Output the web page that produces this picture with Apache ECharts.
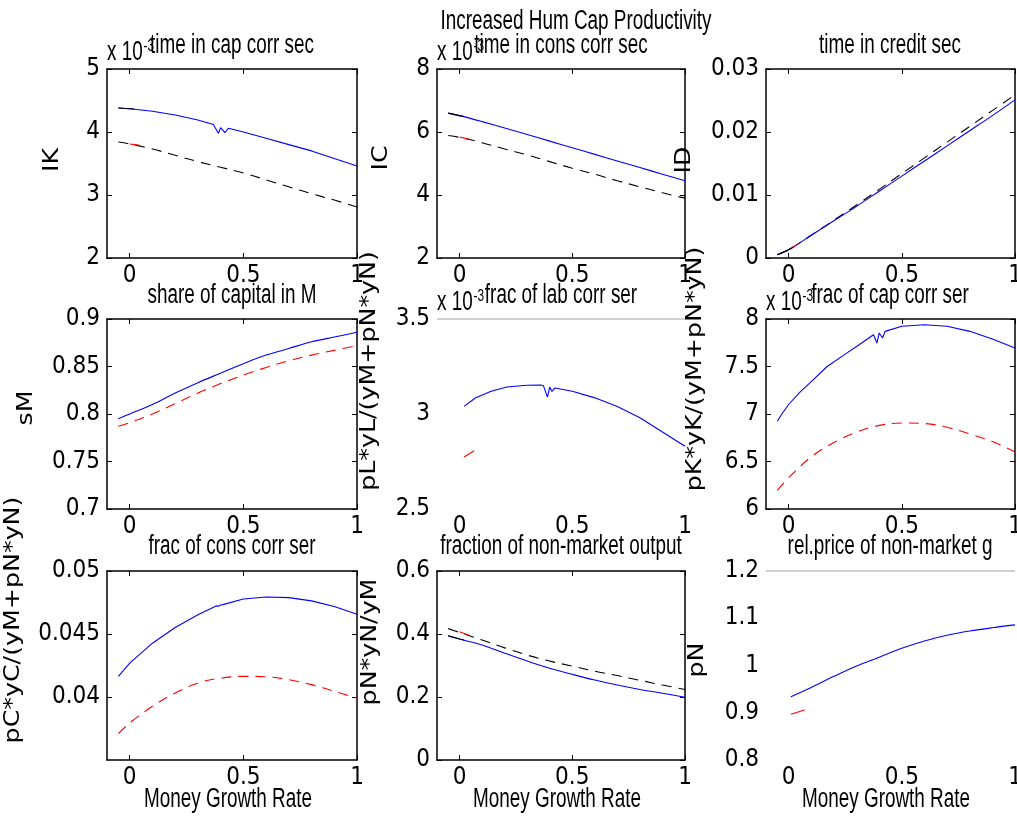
<!DOCTYPE html>
<html><head><meta charset="utf-8">
<script src="https://cdn.jsdelivr.net/npm/echarts@6/dist/echarts.min.js"></script>
<style>html,body{margin:0;padding:0;background:#fff}#c{width:1017px;height:819px}</style>
</head><body><div id="c"></div>
<script>
// ---------------- DATA ----------------
const xGrid = [-0.05, 0, 0.1, 0.2, 0.3, 0.4, 0.5, 0.6, 0.7, 0.8, 0.9, 1.0];
const xStart = [-0.05, 0, 0.02];
const xRedShort = [0, 0.03, 0.065];
const xTicks = [0, 0.5, 1];

const mainTitle = 'Increased Hum Cap Productivity';
const panelTitles = ['time in cap corr sec', 'time in cons corr sec', 'time in credit sec',
  'share of capital in M', 'frac of lab corr ser', 'frac of cap corr ser',
  'frac of cons corr ser', 'fraction of non-market output', 'rel.price of non-market g'];
const yNames = ['IK', 'IC', 'ID', 'sM', 'pL*yL/(yM+pN*yN)', 'pK*yK/(yM+pN*yN)',
  'pC*yC/(yM+pN*yN)', 'pN*yN/yM', 'pN'];
const xName = 'Money Growth Rate';

// Panel 1: IK (x 10^-3)
const ikBlueX = [-0.05, 0, 0.1, 0.2, 0.3, 0.368, 0.39, 0.40, 0.419, 0.434, 0.5, 0.6, 0.7, 0.8, 0.9, 1.0];
const ikBlue = [4.38, 4.37, 4.33, 4.27, 4.19, 4.12, 3.98, 4.07, 3.99, 4.06, 4.00, 3.90, 3.80, 3.70, 3.58, 3.46];
const ikBlackDash = [3.84, 3.81, 3.73, 3.63, 3.53, 3.44, 3.35, 3.24, 3.13, 3.02, 2.92, 2.81];
const ikBlackStart = [4.38, 4.37, 4.365];
const ikRed = [3.81, 3.795, 3.775];
const ikTicks = [2, 3, 4, 5];

// Panel 2: IC (x 10^-3)
const icBlue = [6.60, 6.52, 6.33, 6.13, 5.92, 5.71, 5.50, 5.29, 5.08, 4.87, 4.66, 4.45];
const icBlackDash = [5.89, 5.83, 5.66, 5.46, 5.27, 5.06, 4.85, 4.66, 4.45, 4.26, 4.07, 3.90];
const icBlackStart = [6.60, 6.52, 6.49];
const icRed = [5.84, 5.79, 5.73];
const icTicks = [2, 4, 6, 8];

// Panel 3: ID
const idBlue = [0.0005, 0.0013, 0.0036, 0.0059, 0.0082, 0.0106, 0.0130, 0.0154, 0.0178, 0.0202, 0.0226, 0.0251];
const idBlackDash = [0.0005, 0.0013, 0.0036, 0.0060, 0.0084, 0.0109, 0.0134, 0.0159, 0.0184, 0.0209, 0.0234, 0.0259];
const idBlackStart = [0.0005, 0.0013, 0.0017];
const idRed = [0.0013, 0.0020, 0.0027];
const idTicks = [0, 0.01, 0.02, 0.03];

// Panel 4: sM
const smBlue = [0.795, 0.800, 0.810, 0.822, 0.833, 0.843, 0.853, 0.862, 0.869, 0.876, 0.881, 0.886];
const smRed = [0.787, 0.791, 0.800, 0.811, 0.822, 0.832, 0.841, 0.849, 0.856, 0.862, 0.867, 0.872];
const smTicks = [0.7, 0.75, 0.8, 0.85, 0.9];

// Panel 5: pL*yL share (x 10^-3)
const plBlueX = [0.02, 0.07, 0.14, 0.21, 0.3, 0.36, 0.372, 0.39, 0.40, 0.41, 0.423, 0.5, 0.6, 0.7, 0.8, 0.9, 1.0];
const plBlue = [3.04, 3.084, 3.12, 3.142, 3.151, 3.153, 3.149, 3.089, 3.142, 3.119, 3.137, 3.12, 3.085, 3.04, 2.98, 2.905, 2.83];
const plRedX = [0.02, 0.065];
const plRed = [2.774, 2.807];
const plTicks = [2.5, 3, 3.5];

// Panel 6: pK*yK share (x 10^-3)
const pkBlueX = [-0.05, -0.03, 0, 0.05, 0.1, 0.17, 0.25, 0.3, 0.375, 0.39, 0.40, 0.415, 0.426, 0.5, 0.6, 0.7, 0.8, 0.9, 1.0];
const pkBlue = [6.923, 7.0, 7.1, 7.23, 7.34, 7.5, 7.63, 7.71, 7.835, 7.747, 7.853, 7.80, 7.87, 7.923, 7.94, 7.923, 7.87, 7.79, 7.695];
const pkRed = [6.196, 6.33, 6.55, 6.70, 6.81, 6.88, 6.905, 6.90, 6.86, 6.79, 6.71, 6.60];
const pkTicks = [6, 6.5, 7, 7.5, 8];

// Panel 7: pC*yC share
const pcBlueX = [-0.05, 0, 0.1, 0.2, 0.3, 0.38, 0.39, 0.40, 0.41, 0.5, 0.6, 0.7, 0.8, 0.9, 1.0];
const pcBlue = [0.04164, 0.04269, 0.04427, 0.04551, 0.04652, 0.04723, 0.04720, 0.04730, 0.04733, 0.04778, 0.04794, 0.04789, 0.04763, 0.04718, 0.04657];
const pcRed = [0.0371, 0.03794, 0.03926, 0.04032, 0.04111, 0.04150, 0.04164, 0.04161, 0.04137, 0.04098, 0.04045, 0.0399];
const pcTicks = [0.04, 0.045, 0.05];

// Panel 8: pN*yN/yM
const pnyBlue = [0.394, 0.384, 0.365, 0.339, 0.314, 0.291, 0.272, 0.254, 0.238, 0.224, 0.212, 0.199];
const pnyBlackDash = [0.417, 0.405, 0.381, 0.356, 0.333, 0.314, 0.298, 0.282, 0.268, 0.253, 0.238, 0.224];
const pnyBlackStart = [0.394, 0.384, 0.381];
const pnyRed = [0.407, 0.399, 0.389];
const pnyTicks = [0, 0.2, 0.4, 0.6];

// Panel 9: pN
const pnBlueX = [0.01, 0.1, 0.2, 0.3, 0.4, 0.5, 0.6, 0.7, 0.8, 0.9, 1.0];
const pnBlue = [0.934, 0.9535, 0.977, 0.999, 1.0176, 1.0366, 1.052, 1.064, 1.073, 1.080, 1.086];
const pnRedX = [0.01, 0.07];
const pnRed = [0.897, 0.906];
const pnTicks = [0.8, 0.9, 1, 1.1, 1.2];

// ---------------- LAYOUT / STYLE ----------------
const colLeft = [107, 437, 766], colWidth = [250, 248, 249];
const rowTop = [69, 319, 571], rowHeight = [189, 190, 189];
const NARROW = "'DejaVu Sans Condensed','Liberation Sans Narrow',sans-serif";
const HELV = "'Liberation Sans',Arial,sans-serif";
const WIDE = "'DejaVu Sans',sans-serif";
const BLUE = '#0000ff', RED = '#ff0000', BLACK = '#000000';
const DASH = [10, 7];
const TEXT_SQUEEZE = 0.70;
const TEXT_SIZE = 27;

const panels = [
  { yMin: 2, yMax: 5, ticks: ikTicks, exp: true, box: true,
    lines: [[xGrid, ikBlackDash, BLACK, true, true], [ikBlueX, ikBlue, BLUE, false, false], [xRedShort, ikRed, RED, true, false], [xStart, ikBlackStart, BLACK, false, false]] },
  { yMin: 2, yMax: 8, ticks: icTicks, exp: true, box: true,
    lines: [[xGrid, icBlackDash, BLACK, true, true], [xGrid, icBlue, BLUE, false, true], [xRedShort, icRed, RED, true, false], [xStart, icBlackStart, BLACK, false, false]] },
  { yMin: 0, yMax: 0.03, ticks: idTicks, exp: false, box: true,
    lines: [[xGrid, idBlackDash, BLACK, true, true], [xGrid, idBlue, BLUE, false, true], [xRedShort, idRed, RED, true, false], [xStart, idBlackStart, BLACK, false, false]] },
  { yMin: 0.7, yMax: 0.9, ticks: smTicks, exp: false, box: true,
    lines: [[xGrid, smBlue, BLUE, false, true], [xGrid, smRed, RED, true, true]] },
  { yMin: 2.5, yMax: 3.5, ticks: plTicks, exp: true, box: false,
    lines: [[plBlueX, plBlue, BLUE, false, false], [plRedX, plRed, RED, false, false]] },
  { yMin: 6, yMax: 8, ticks: pkTicks, exp: true, box: true,
    lines: [[pkBlueX, pkBlue, BLUE, false, false], [xGrid, pkRed, RED, true, true]] },
  { yMin: 0.035, yMax: 0.05, ticks: pcTicks, exp: false, box: true,
    lines: [[pcBlueX, pcBlue, BLUE, false, false], [xGrid, pcRed, RED, true, true]] },
  { yMin: 0, yMax: 0.6, ticks: pnyTicks, exp: false, box: true,
    lines: [[xGrid, pnyBlackDash, BLACK, true, true], [xGrid, pnyBlue, BLUE, false, true], [xRedShort, pnyRed, RED, true, false], [xStart, pnyBlackStart, BLACK, false, false]] },
  { yMin: 0.8, yMax: 1.2, ticks: pnTicks, exp: false, box: false,
    lines: [[pnBlueX, pnBlue, BLUE, false, true], [pnRedX, pnRed, RED, false, false]] }
];

const grid = [], xAxis = [], yAxis = [], series = [], graphic = [];
const labelStyle = { color: '#000', fontFamily: NARROW, fontSize: 24 };

panels.forEach((p, i) => {
  const r = Math.floor(i / 3), c = i % 3;
  grid.push({ left: colLeft[c], top: rowTop[r], width: colWidth[c], height: rowHeight[r],
    containLabel: false, outerBoundsMode: 'none' });
  const line = { show: p.box, onZero: false, lineStyle: { color: '#000', width: 1.5 } };
  const tick = (vals) => ({ show: p.box, inside: true, length: 5, customValues: vals, lineStyle: { color: '#000', width: 1 } });
  xAxis.push({ gridIndex: i, type: 'value', min: -0.1, max: 1, position: 'bottom',
    axisLine: line, axisTick: tick(xTicks), splitLine: { show: false },
    axisLabel: Object.assign({ customValues: xTicks, margin: 6, formatter: v => String(v) }, labelStyle) });
  xAxis.push({ gridIndex: i, type: 'value', min: -0.1, max: 1, position: 'top',
    axisLine: line, axisTick: tick(xTicks), splitLine: { show: false }, axisLabel: { show: false } });
  yAxis.push({ gridIndex: i, type: 'value', min: p.yMin, max: p.yMax, position: 'left',
    axisLine: line, axisTick: tick(p.ticks), splitLine: { show: false },
    axisLabel: Object.assign({ customValues: p.ticks, margin: 7, formatter: v => String(v) }, labelStyle) });
  yAxis.push({ gridIndex: i, type: 'value', min: p.yMin, max: p.yMax, position: 'right',
    axisLine: line, axisTick: tick(p.ticks), splitLine: { show: false }, axisLabel: { show: false } });
  p.lines.forEach(([xs, ys, color, dashed, smooth], k) => {
    const s = { type: 'line', xAxisIndex: 2 * i, yAxisIndex: 2 * i, silent: true,
      data: xs.map((x, j) => [x, ys[j]]), showSymbol: false, symbol: 'none', z: 2 + k,
      smooth: smooth ? 0.35 : false,
      lineStyle: { color, width: 1.1, type: dashed ? DASH : 'solid' }, itemStyle: { color } };
    if (!p.box && k === 0) {
      s.markLine = { silent: true, symbol: 'none', label: { show: false },
        lineStyle: { color: '#c0c0c0', width: 1.5, type: 'solid' },
        data: [{ yAxis: p.yMax }], animation: false };
    }
    series.push(s);
  });
});

// texts
function squeezed(x, y, text, z) {
  return { type: 'text', x, y, z: z || 10, scaleX: TEXT_SQUEEZE,
    style: { text, font: TEXT_SIZE + 'px ' + HELV, fill: '#000', align: 'center', verticalAlign: 'middle' } };
}
graphic.push(squeezed(576, 22, mainTitle));
const titleY = [46, 296, 547];
const colCenter = [232, 561, 890];
panelTitles.forEach((t, i) => {
  const r = Math.floor(i / 3), c = i % 3;
  graphic.push(squeezed(colCenter[c], titleY[r], t));
});
const yNamePos = [[52, 160], [381, 158], [684, 160], [26, 408], [369, 371], [695, 369], [13, 620], [370, 642], [697, 660]];
yNames.forEach((t, i) => {
  graphic.push({ type: 'text', x: yNamePos[i][0], y: yNamePos[i][1], rotation: Math.PI / 2, z: 10, scaleX: 1.15,
    style: { text: t, font: '22px ' + WIDE, fill: '#000', align: 'center', verticalAlign: 'middle' } });
});
panels.forEach((p, i) => {
  if (!p.exp) return;
  const r = Math.floor(i / 3), c = i % 3;
  graphic.push({ type: 'text', x: colLeft[c], y: titleY[r] + 6, z: 9, scaleX: TEXT_SQUEEZE,
    style: { text: '{a|x 10}{b|-3}', fill: '#000', align: 'left', verticalAlign: 'middle',
      rich: { a: { fontFamily: HELV, fontSize: TEXT_SIZE, lineHeight: 28, verticalAlign: 'bottom' },
              b: { fontFamily: HELV, fontSize: 17, lineHeight: 28, verticalAlign: 'top', padding: [0, 0, 8, 1] } } } });
});
colCenter.forEach(cx => graphic.push(squeezed(cx - 4, 800, xName)));

const chart = echarts.init(document.getElementById('c'), null, { renderer: 'canvas' });
chart.setOption({ animation: false, backgroundColor: '#fff', grid, xAxis, yAxis, series, graphic });
</script></body></html>
